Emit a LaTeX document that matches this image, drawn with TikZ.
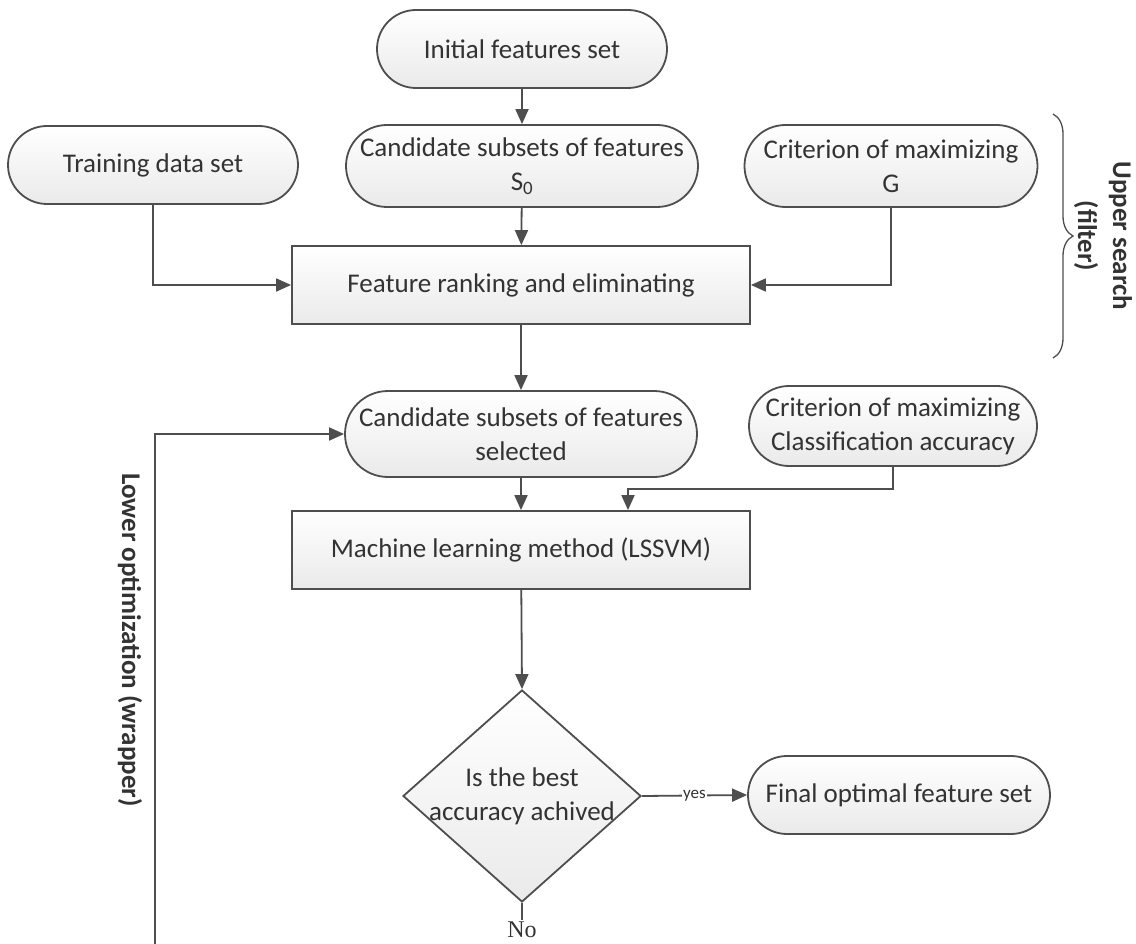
\documentclass[tikz,border=0pt]{standalone}
\usepackage{fontspec}
\setmainfont{Carlito}
\newfontfamily\serifno{Liberation Serif}
\usetikzlibrary{shapes.misc,shapes.geometric,arrows.meta,decorations.pathreplacing,calc}
\definecolor{edge}{HTML}{4E4E4E}
\definecolor{txt}{HTML}{333333}
\definecolor{fillg}{HTML}{EAEAEA}
\begin{document}
\begin{tikzpicture}[x=1pt,y=1pt,
  font=\fontsize{27}{34}\selectfont,
  pill/.style={rounded rectangle, draw=edge, line width=1.8pt, top color=white,
    bottom color=fillg, align=center, inner sep=0pt, text=txt},
  box/.style={rectangle, draw=edge, line width=1.8pt, top color=white,
    bottom color=fillg, inner sep=0pt, text=txt},
  decision/.style={diamond, draw=edge, line width=1.8pt, top color=white,
    bottom color=fillg, inner sep=0pt},
  flow/.style={draw=edge, line width=1.8pt, -{Triangle[length=15pt,width=13pt]}},
  plain/.style={draw=edge, line width=1.8pt},
  sidelabel/.style={text=txt, font=\fontsize{27}{35}\selectfont\bfseries, align=center, rotate=-90}]

% canvas
\path[use as bounding box, fill=white] (0,0) rectangle (1136,-944);

% upper part: filter
\node[pill, minimum width=290, minimum height=78] (init) at (522,-49) {Initial features set};
\node[pill, minimum width=352, minimum height=82] (s0) at (522,-166) {Candidate subsets of features\\S\textsubscript{0}};
\node[pill, minimum width=290, minimum height=78] (train) at (153,-165) {Training data set};
\node[pill, minimum width=293, minimum height=82] (critg) at (891,-166) {Criterion of maximizing\\G};
\node[box, minimum width=458, minimum height=78] (rank) at (521,-285) {Feature ranking and eliminating};

% lower part: wrapper
\node[pill, minimum width=352, minimum height=86] (sel) at (521,-434) {Candidate subsets of features\\selected};
\node[pill, minimum width=288, minimum height=80] (critc) at (893,-426) {Criterion of maximizing\\Classification accuracy};
\node[box, minimum width=458, minimum height=78] (ml) at (521,-550) {Machine learning method (LSSVM)};
\node[decision, minimum width=238, minimum height=212] (best) at (522,-796) {};
\node[text=txt, align=center, inner sep=0pt] (bestq) at (best.center) {Is the best\\accuracy achived};
\node[pill, minimum width=302, minimum height=78] (final) at (899,-795) {Final optimal feature set};
\node[text=txt, font=\fontsize{24}{24}\selectfont\serifno, inner sep=2pt] (no) at (522,-930) {No};

% connectors
\draw[flow] (init) -- (s0);
\draw[flow] (s0) -- (rank);
\draw[flow] (train.south) |- (rank.west);
\draw[flow] (critg.south) |- (rank.east);
\draw[flow] (rank) -- (sel);
\draw[flow] (sel.south) -- (sel.south |- ml.north);
\coordinate (bend) at (628,-489);
\draw[flow] (critc.south) |- (bend) -- (bend |- ml.north);
\draw[flow] (ml) -- (best.north);
\draw[flow] (best.east) -- node[fill=white, text=txt, inner sep=1pt,
  font=\fontsize{17}{17}\selectfont] (yes) {yes} (final.west);
\draw[plain] (best.south) -- (no.north);
\coordinate (loop) at (155,-944);
\draw[flow] (loop) |- (sel.west);

% side annotations
\draw[edge, line width=1.3pt, decorate, decoration={brace, amplitude=20pt}]
  (1053,-114) -- (1053,-358);
\node[sidelabel] (upper) at (1103,-236) {Upper search\\(filter)};
\node[sidelabel] (lower) at (130,-640) {Lower optimization (wrapper)};
\end{tikzpicture}
\end{document}
